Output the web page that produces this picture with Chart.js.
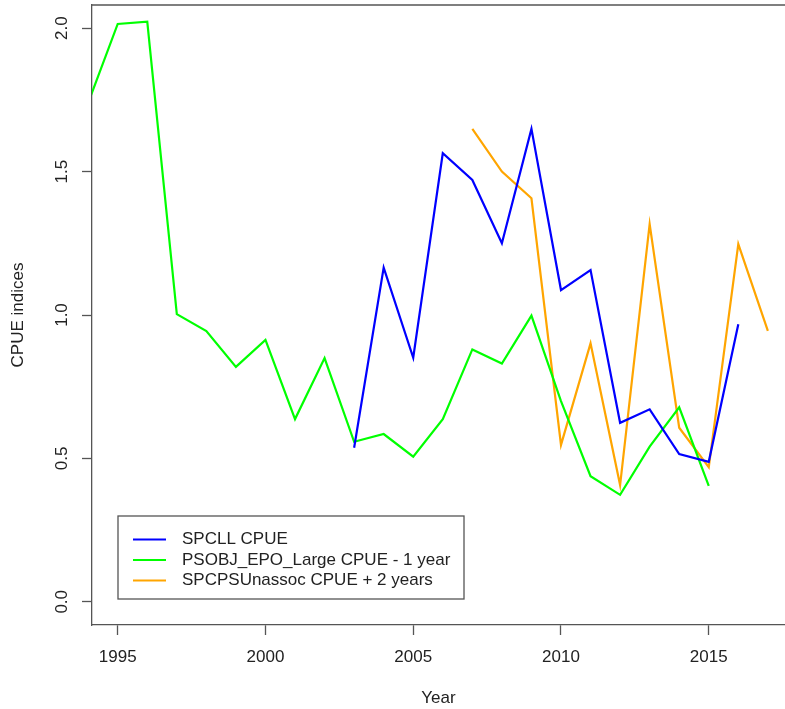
<!DOCTYPE html>
<html>
<head>
<meta charset="utf-8">
<script src="https://cdn.jsdelivr.net/npm/chart.js@4/dist/chart.umd.min.js"></script>
<style>
    body { margin: 0; background: #fff; }
    #wrap { width: 785px; height: 709px; }
</style>
</head>
<body>
<div id="wrap"><canvas id="cpueChart" width="785" height="709"></canvas></div>
<script>
const yearsSPCLL = [2003, 2004, 2005, 2006, 2007, 2008, 2009, 2010, 2011, 2012, 2013, 2014, 2015, 2016];
const spcll = [0.537, 1.165, 0.851, 1.564, 1.471, 1.25, 1.649, 1.087, 1.157, 0.624, 0.671, 0.515, 0.488, 0.968];

const yearsPSOBJ = [1994, 1995, 1996, 1997, 1998, 1999, 2000, 2001, 2002, 2003, 2004, 2005,
    2006, 2007, 2008, 2009, 2010, 2011, 2012, 2013, 2014, 2015];
const psobj = [1.74, 2.015, 2.023, 1.003, 0.944, 0.819, 0.913, 0.637, 0.85, 0.558, 0.585, 0.506,
    0.637, 0.88, 0.831, 0.998, 0.70, 0.438, 0.373, 0.541, 0.678, 0.404];

const yearsSPCPS = [2007, 2008, 2009, 2010, 2011, 2012, 2013, 2014, 2015, 2016, 2017];
const spcps = [1.649, 1.50, 1.407, 0.547, 0.901, 0.407, 1.317, 0.607, 0.469, 1.247, 0.945];

const seriesLabels = ['SPCLL CPUE', 'PSOBJ_EPO_Large CPUE - 1 year', 'SPCPSUnassoc CPUE + 2 years'];
const xTicks = [1995, 2000, 2005, 2010, 2015];
const yTicks = [0, 0.5, 1, 1.5, 2];

const axisColor = '#555';
const textColor = '#222';
const fontFamily = '"Liberation Sans", Arial, sans-serif';

function toPoints(xs, ys) {
    return xs.map((x, i) => ({ x: x, y: ys[i] }));
}

// R style box top line + legend inside the plot area
const rExtras = {
    id: 'rExtras',
    afterDraw(chart) {
        const ctx = chart.ctx;
        const a = chart.chartArea;
        ctx.save();
        ctx.strokeStyle = axisColor;
        ctx.lineWidth = 1.3;
        ctx.beginPath();
        ctx.moveTo(a.left, a.top);
        ctx.lineTo(a.right, a.top);
        ctx.stroke();

        // legend box
        const bx = a.left + 26, by = 516, bw = 346, bh = 83;
        ctx.strokeRect(bx, by, bw, bh);
        ctx.font = '17px ' + fontFamily;
        ctx.textBaseline = 'middle';
        ctx.fillStyle = textColor;
        chart.data.datasets.forEach((ds, i) => {
            const y = by + 23.5 + i * 20.5;
            ctx.strokeStyle = ds.borderColor;
            ctx.lineWidth = 2;
            ctx.beginPath();
            ctx.moveTo(bx + 15, y);
            ctx.lineTo(bx + 48, y);
            ctx.stroke();
            ctx.fillText(ds.label, bx + 64, y);
        });
        ctx.restore();
    }
};

new Chart(document.getElementById('cpueChart'), {
    type: 'line',
    data: {
        datasets: [
            { label: seriesLabels[0], data: toPoints(yearsSPCLL, spcll), borderColor: '#0000ff' },
            { label: seriesLabels[1], data: toPoints(yearsPSOBJ, psobj), borderColor: '#00ff00' },
            { label: seriesLabels[2], data: toPoints(yearsSPCPS, spcps), borderColor: '#ffa500' }
        ]
    },
    options: {
        responsive: false,
        animation: false,
        layout: { padding: { left: 0, right: 0, top: 5, bottom: 0 } },
        elements: {
            point: { radius: 0 },
            line: { tension: 0, borderWidth: 2.2, fill: false }
        },
        datasets: { line: { clip: 0 } },
        plugins: {
            legend: { display: false },
            tooltip: { enabled: false }
        },
        scales: {
            x: {
                type: 'linear',
                min: 1994.13,
                max: 2017.58,
                afterBuildTicks: s => { s.ticks = xTicks.map(v => ({ value: v })); },
                afterFit: s => { s.height = 84; s.paddingLeft = 0; s.paddingRight = 0; },
                grid: { drawOnChartArea: false, tickLength: 10, color: axisColor, tickWidth: 1.3 },
                border: { color: axisColor, width: 1.3 },
                ticks: {
                    font: { family: fontFamily, size: 17 },
                    color: textColor,
                    padding: 12,
                    maxRotation: 0,
                    callback: v => String(v)
                },
                title: {
                    display: true,
                    text: 'Year',
                    font: { family: fontFamily, size: 17 },
                    color: textColor,
                    padding: { top: 0, bottom: 0 }
                }
            },
            y: {
                min: -0.081,
                max: 2.081,
                afterBuildTicks: s => { s.ticks = yTicks.map(v => ({ value: v })); },
                afterFit: s => { s.width = 92; s.paddingTop = 0; s.paddingBottom = 0; },
                grid: { drawOnChartArea: false, tickLength: 10, color: axisColor, tickWidth: 1.3 },
                border: { color: axisColor, width: 1.3 },
                ticks: {
                    font: { family: fontFamily, size: 17 },
                    color: textColor,
                    padding: 8,
                    minRotation: 90,
                    maxRotation: 90,
                    crossAlign: 'center',
                    callback: v => v.toFixed(1)
                },
                title: {
                    display: true,
                    text: 'CPUE indices',
                    font: { family: fontFamily, size: 17 },
                    color: textColor,
                    padding: { top: 8, bottom: 0 }
                }
            }
        }
    },
    plugins: [rExtras]
});
</script>
</body>
</html>
